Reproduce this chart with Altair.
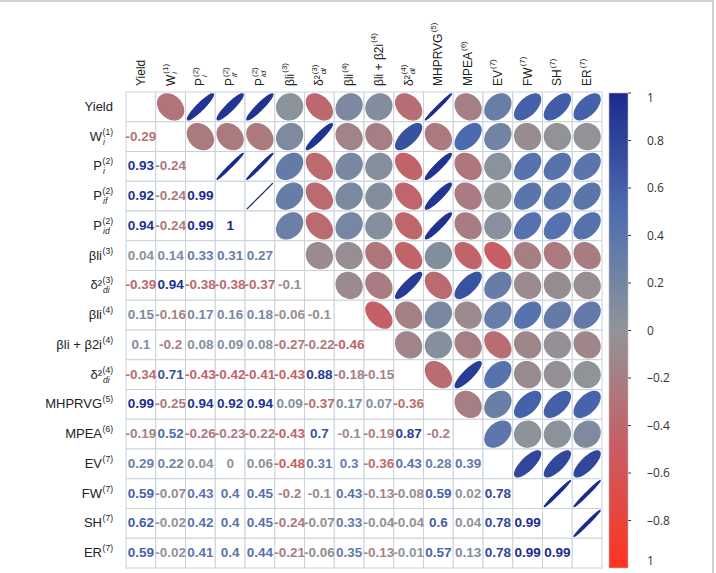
import numpy as np
import pandas as pd
import altair as alt

# Variables, in matrix order
variables = ["Yield", "Wi1", "Pi2", "Pif2", "Pid2", "bli3", "d2di3", "bli4",
             "blib2i4", "d2di4", "MHPRVG5", "MPEA6", "EV7", "FW7", "SH7", "ER7"]
label_main = ["Yield", "W", "P", "P", "P", "βli", "δ²", "βli", "βli + β2i", "δ²",
              "MHPRVG", "MPEA", "EV", "FW", "SH", "ER"]
label_sub = ["", "i", "i", "if", "id", "", "di", "", "", "di", "", "", "", "", "", ""]
label_sup = ["", "(1)", "(2)", "(2)", "(2)", "(3)", "(3)", "(4)", "(4)", "(4)",
             "(5)", "(6)", "(7)", "(7)", "(7)", "(7)"]

# Lower-triangle correlations, row by row (row i holds columns 0..i-1)
lower_rows = [
    [-0.29],
    [0.93, -0.24],
    [0.92, -0.24, 0.99],
    [0.94, -0.24, 0.99, 1],
    [0.04, 0.14, 0.33, 0.31, 0.27],
    [-0.39, 0.94, -0.38, -0.38, -0.37, -0.1],
    [0.15, -0.16, 0.17, 0.16, 0.18, -0.06, -0.1],
    [0.1, -0.2, 0.08, 0.09, 0.08, -0.27, -0.22, -0.46],
    [-0.34, 0.71, -0.43, -0.42, -0.41, -0.43, 0.88, -0.18, -0.15],
    [0.99, -0.25, 0.94, 0.92, 0.94, 0.09, -0.37, 0.17, 0.07, -0.36],
    [-0.19, 0.52, -0.26, -0.23, -0.22, -0.43, 0.7, -0.1, -0.19, 0.87, -0.2],
    [0.29, 0.22, 0.04, 0, 0.06, -0.48, 0.31, 0.3, -0.36, 0.43, 0.28, 0.39],
    [0.59, -0.07, 0.43, 0.4, 0.45, -0.2, -0.1, 0.43, -0.13, -0.08, 0.59, 0.02, 0.78],
    [0.62, -0.02, 0.42, 0.4, 0.45, -0.24, -0.07, 0.33, -0.04, -0.04, 0.6, 0.04, 0.78, 0.99],
    [0.59, -0.02, 0.41, 0.4, 0.44, -0.21, -0.06, 0.35, -0.13, -0.01, 0.57, 0.13, 0.78, 0.99, 0.99],
]

# Colour bar ticks and their printed labels
cbar_ticks = [1, 0.8, 0.6, 0.4, 0.2, 0, -0.2, -0.4, -0.6, -0.8, -1]
cbar_labels = ["1", "0.8", "0.6", "0.4", "0.2", "0", "–0.2", "–0.4", "–0.6", "–0.8", "1"]

n = len(variables)
corr = np.eye(n)
for i, row in enumerate(lower_rows, start=1):
    for j, v in enumerate(row):
        corr[i, j] = corr[j, i] = v


def ellipse_path(r, k=60):
    """Correlation ellipse in [-1, 1]^2, tilted up-right for r > 0."""
    d = np.arccos(np.clip(r, -1, 1))
    t = np.linspace(0, 2 * np.pi, k, endpoint=False)
    xs = np.cos(t + d / 2)
    ys = -np.cos(t - d / 2)
    return "M" + "L".join(f"{x:.4f},{y:.4f}" for x, y in zip(xs, ys)) + "Z"


recs = []
for i in range(n):
    for j in range(n):
        part = "lower" if i > j else ("upper" if i < j else "diag")
        r = float(corr[i, j])
        recs.append({"row": variables[i], "col": variables[j], "r": r, "part": part,
                     "label": f"{r:g}", "path": ellipse_path(r)})
cells = pd.DataFrame(recs)

# Approximate advance widths (per 1000 em) for placing column-label indices
char_w = {" ": 278, "+": 584, "2": 556, "²": 333, "Y": 667, "i": 222, "e": 556,
          "l": 222, "d": 556, "W": 944, "P": 667, "M": 833, "H": 722, "R": 722,
          "V": 667, "G": 778, "E": 667, "A": 667, "F": 611, "S": 667, "β": 575, "δ": 556}
COL_FS = 12
ROW_FS = 13
COL_BASE = -6

# Colour bar geometry (relative to the matrix origin)
CB_X, CB_Y, CB_LEN, CB_W = 483, 1, 475, 19


def text_w(s, fs):
    return sum(char_w.get(c, 556) for c in s) * fs / 1000.0


labels = pd.DataFrame({"var": variables, "main": label_main, "sub": label_sub, "sup": label_sup})
labels["yidx"] = [COL_BASE - text_w(m, COL_FS) - 1 for m in label_main]

ticks = pd.DataFrame({"v": cbar_ticks[:-1]})
ticks["ypix"] = CB_Y + (1 - ticks["v"]) / 2 * CB_LEN

color_scale = alt.Scale(domain=[-1, -0.5, 0, 0.5, 1],
                        range=["#ff3420", "#c95c62", "#8f9599", "#4e6db0", "#1b2a8c"],
                        interpolate="rgb")
xs = alt.Scale(domain=variables, paddingInner=0, paddingOuter=0)
ys = alt.Scale(domain=variables, paddingInner=0, paddingOuter=0)

label_expr = ("[" + ",".join(f"'{s}'" for s in cbar_labels) + "][indexof(["
              + ",".join(str(v) for v in cbar_ticks) + "], datum.value)]")

color_enc = alt.Color(
    "r:Q", scale=color_scale,
    legend=alt.Legend(type="gradient", orient="none", legendX=CB_X, legendY=CB_Y,
                      direction="vertical",
                      gradientLength=CB_LEN, gradientThickness=CB_W, title=None,
                      values=cbar_ticks, labelExpr=label_expr, labelOffset=19,
                      labelFont="Open Sans", labelFontSize=12, labelColor="#333333",
                      gradientStrokeColor="#c8b8c0", gradientStrokeWidth=0.6,
                      labelOverlap=False, padding=0),
)

base = alt.Chart(cells)
X = alt.X("col:N", scale=xs, axis=None)
Y = alt.Y("row:N", scale=ys, axis=None)

grid = base.mark_rect(fill="white", stroke="#c9d2da", strokeWidth=1).encode(x=X, y=Y)

# Ellipse outline takes the same colour as its fill
ellipses = base.transform_filter("datum.part == 'upper'").mark_point(
    filled=True, opacity=1, size=676, strokeWidth=1.3,
    stroke=alt.ExprRef("scale('color', datum.r)"),
).encode(
    x=X, y=Y,
    shape=alt.Shape("path:N", scale=None, legend=None),
    color=color_enc,
)

values = base.transform_filter("datum.part == 'lower'").mark_text(
    font="Liberation Sans", fontSize=13.5, fontWeight="bold", baseline="middle"
).encode(x=X, y=Y, text="label:N", color=color_enc)

lab = alt.Chart(labels)
LY = alt.Y("var:N", scale=ys, axis=None)
LX = alt.X("var:N", scale=xs, axis=None)
txt = dict(font="Liberation Sans", color="#222222", baseline="middle")

row_main = lab.transform_filter("datum.sup != ''").mark_text(
    align="right", fontSize=ROW_FS, **txt).encode(y=LY, x=alt.value(-24), text="main:N")
row_plain = lab.transform_filter("datum.sup == ''").mark_text(
    align="right", fontSize=ROW_FS, **txt).encode(y=LY, x=alt.value(-13), text="main:N")
row_sup = lab.transform_filter("datum.sup != ''").mark_text(
    align="right", fontSize=8.5, dy=-5, **txt).encode(y=LY, x=alt.value(-13), text="sup:N")
row_sub = lab.transform_filter("datum.sub != ''").mark_text(
    align="left", fontSize=8.5, dy=5, fontStyle="italic", **txt).encode(
    y=LY, x=alt.value(-23), text="sub:N")

col_main = lab.mark_text(align="left", angle=270, fontSize=COL_FS, **txt).encode(
    x=LX, y=alt.value(COL_BASE), text="main:N")
col_sup = lab.transform_filter("datum.sup != ''").mark_text(
    align="left", angle=270, fontSize=8, dy=-4.5, **txt).encode(
    x=LX, y=alt.Y("yidx:Q", scale=None, axis=None), text="sup:N")
col_sub = lab.transform_filter("datum.sub != ''").mark_text(
    align="left", angle=270, fontSize=8, dy=4.5, fontStyle="italic", **txt).encode(
    x=LX, y=alt.Y("yidx:Q", scale=None, axis=None), text="sub:N")

# Small tick marks on the right edge of the colour bar
cb_ticks = alt.Chart(ticks).mark_rule(color="#333333", strokeWidth=1).encode(
    y=alt.Y("ypix:Q", scale=None, axis=None),
    x=alt.value(CB_X + CB_W), x2=alt.value(CB_X + CB_W + 3))

# Thin outer frame along the top and right edges
frame_top = alt.Chart(labels).mark_rule(color="#d0d0d0", strokeWidth=1.2).encode(
    x=alt.value(-126), x2=alt.value(588), y=alt.value(-91))
frame_right = alt.Chart(labels).mark_rule(color="#d0d0d0", strokeWidth=1.2).encode(
    x=alt.value(587), y=alt.value(-91), y2=alt.value(481))

chart = alt.layer(
    grid, ellipses, values,
    row_main, row_plain, row_sup, row_sub,
    col_main, col_sup, col_sub,
    cb_ticks, frame_top, frame_right,
).properties(
    width=476, height=476,
    autosize=alt.AutoSizeParams(type="none"),
    padding={"left": 126, "top": 92, "right": 114, "bottom": 5},
    background="white",
).configure_view(stroke=None)

chart.save("out.html", embed_options={"renderer": "svg", "actions": False})
